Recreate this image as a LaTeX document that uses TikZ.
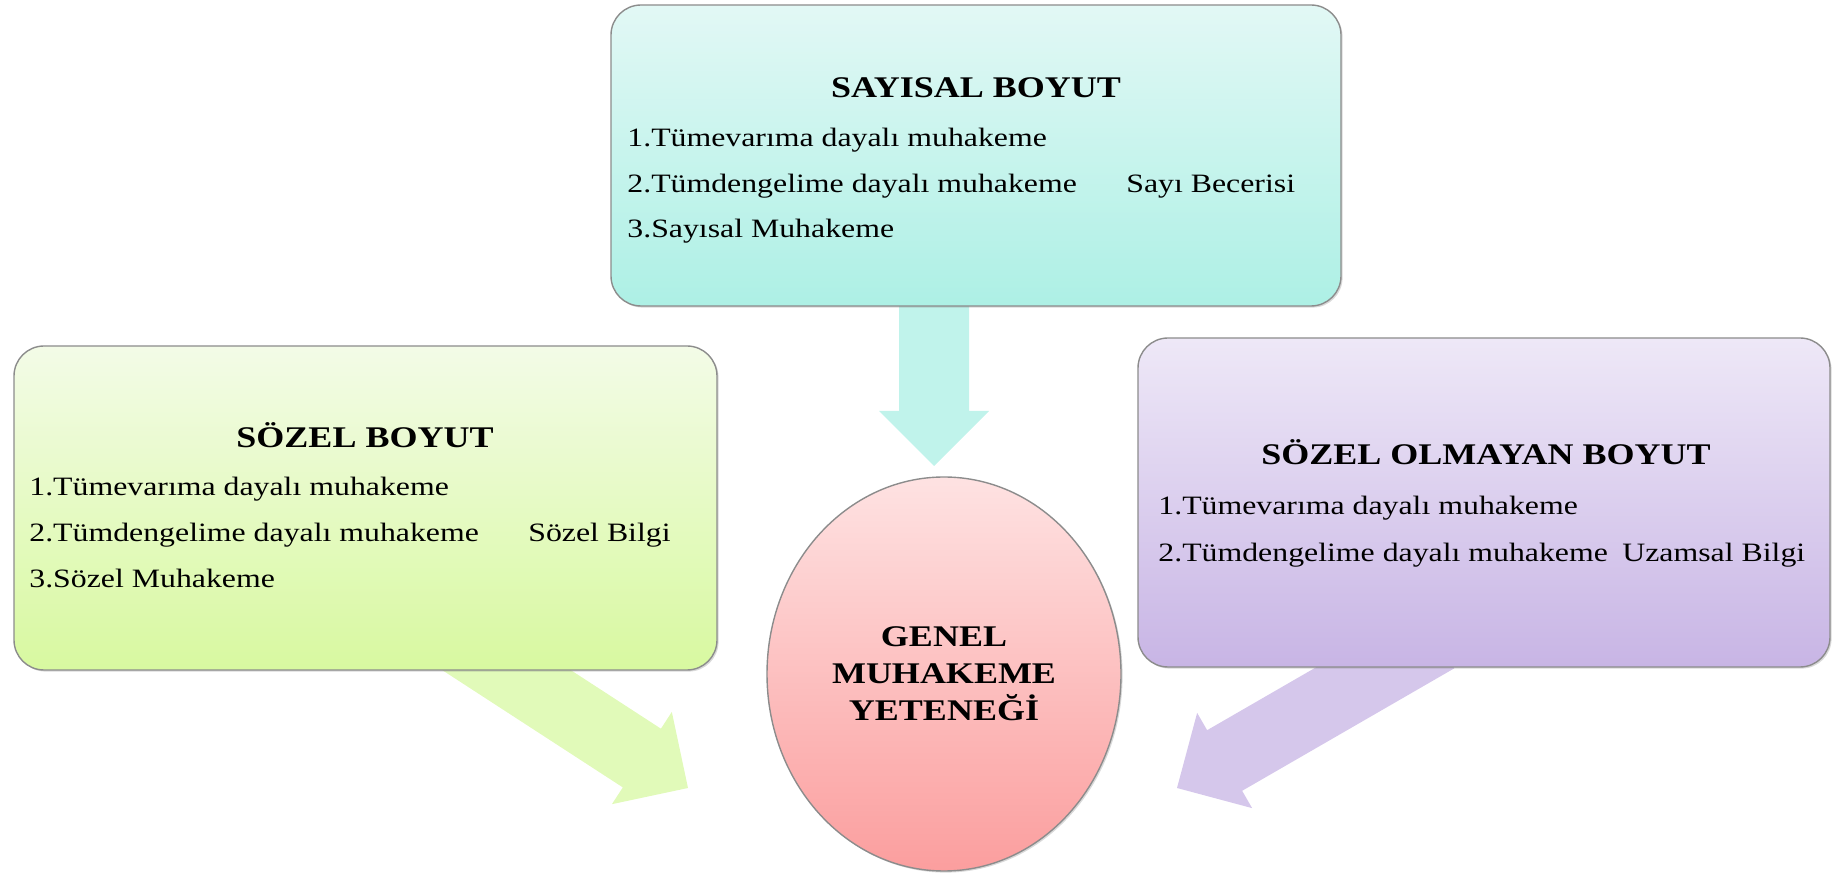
\documentclass[tikz,border=0pt]{standalone}
\usepackage{fontspec}
\setmainfont[FakeStretch=1.2]{Liberation Serif}
\usetikzlibrary{shapes.geometric,shadows}

\definecolor{turkuazA}{HTML}{E2F8F5}
\definecolor{turkuazB}{HTML}{ADF0E5}
\definecolor{yesilA}{HTML}{F3FBE7}
\definecolor{yesilB}{HTML}{D8F9A0}
\definecolor{morA}{HTML}{EEE8F7}
\definecolor{morB}{HTML}{C8B5E5}
\definecolor{pembeA}{HTML}{FEE2E2}
\definecolor{pembeB}{HTML}{FB9E9E}

\begin{document}
\begin{tikzpicture}[x=0.5pt, y=0.5pt, line join=round, line cap=round,
		kutu/.style={rectangle, rounded corners=15pt, draw=black!45, line width=0.7pt, inner sep=0pt,
			drop shadow={opacity=0.3, shadow xshift=0.8pt, shadow yshift=-0.8pt}},
		baslik/.style={font=\fontsize{15}{18}\selectfont\bfseries, anchor=base, inner sep=0pt},
		satir/.style={font=\fontsize{13.25}{16}\selectfont, anchor=base west, inner sep=0pt}]
	\useasboundingbox (0,0) rectangle (1832,873);
	% oklar
	\coordinate (ucS) at (934,407);
	\coordinate (ucV) at (688,85);
	\coordinate (ucN) at (1177,85);
	\begin{scope}[shift={(ucS)}, rotate=-90]
		\fill[turkuazA!35!turkuazB] (0,0)--(-55,55)--(-55,35)--(-170,35)--(-170,-35)--(-55,-35)--(-55,-55)--cycle;
	\end{scope}
	\begin{scope}[shift={(ucV)}, rotate=-33]
		\fill[yesilA!35!yesilB] (0,0)--(-55,55)--(-55,35)--(-300,35)--(-300,-35)--(-55,-35)--(-55,-55)--cycle;
	\end{scope}
	\begin{scope}[shift={(ucN)}, rotate=210]
		\fill[morA!35!morB] (0,0)--(-55,55)--(-55,35)--(-300,35)--(-300,-35)--(-55,-35)--(-55,-55)--cycle;
	\end{scope}
	% kutular
	\node[kutu, minimum width=365pt, minimum height=150.5pt, top color=turkuazA, bottom color=turkuazB] (sayisal) at (976,717.5) {};
	\node[kutu, minimum width=351.5pt, minimum height=162pt, top color=yesilA, bottom color=yesilB] (sozel) at (365.5,365) {};
	\node[kutu, minimum width=346pt, minimum height=164.5pt, top color=morA, bottom color=morB] (sozelolm) at (1484,370.5) {};
	\node[ellipse, draw=black!45, line width=0.7pt, minimum width=177pt, minimum height=197pt, top color=pembeA, bottom color=pembeB,
		font=\fontsize{15}{18.5}\selectfont\bfseries, align=center,
		drop shadow={opacity=0.3, shadow xshift=0.8pt, shadow yshift=-0.8pt}] (genel) at (944,199) {GENEL\\MUHAKEME\\YETENEĞİ};
	% SAYISAL BOYUT
	\node[baslik] (sayB) at (976,775) {SAYISAL BOYUT};
	\node[satir] (say1) at (627,726) {1.Tümevarıma dayalı muhakeme};
	\node[satir] (say2) at (627,680) {2.Tümdengelime dayalı muhakeme};
	\node[satir] (say3) at (627,635) {3.Sayısal Muhakeme};
	\node[satir] (sayE) at (1126,680) {Sayı Becerisi};
	% SÖZEL BOYUT
	\node[baslik] (sozB) at (365,425) {SÖZEL BOYUT};
	\node[satir] (soz1) at (29,377) {1.Tümevarıma dayalı muhakeme};
	\node[satir] (soz2) at (29,331) {2.Tümdengelime dayalı muhakeme};
	\node[satir] (soz3) at (29,285) {3.Sözel Muhakeme};
	\node[satir] (sozE) at (528,331) {Sözel Bilgi};
	% SÖZEL OLMAYAN BOYUT
	\node[baslik] (olmB) at (1486,408) {SÖZEL OLMAYAN BOYUT};
	\node[satir] (olm1) at (1158,358) {1.Tümevarıma dayalı muhakeme};
	\node[satir] (olm2) at (1158,311) {2.Tümdengelime dayalı muhakeme};
	\node[satir] (olmE) at (1622,311) {Uzamsal Bilgi};
\end{tikzpicture}
\end{document}
